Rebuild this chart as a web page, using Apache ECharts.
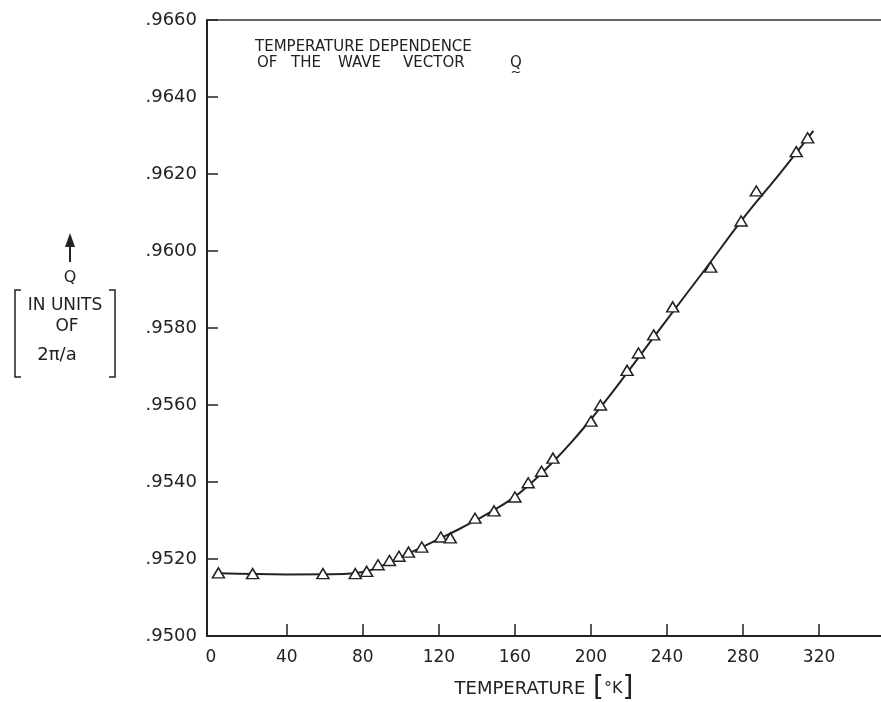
<!DOCTYPE html>
<html>
<head>
<meta charset="utf-8">
<script src="https://cdn.jsdelivr.net/npm/echarts@6/dist/echarts.min.js"></script>
<style>
html,body{margin:0;padding:0;background:#fff;overflow:hidden;}
#chart{position:absolute;left:0;top:0;width:881px;height:702px;}
</style>
</head>
<body>
<div id="chart"></div>
<script>
// measured points: temperature (K) and Q (units of 2π/a)
var pointT = [4, 22, 59, 76, 82, 88, 94, 99, 104, 111, 121, 126, 139, 149, 160, 167, 174, 180, 200, 205, 219, 225, 233, 243, 263, 279, 287, 308, 314];
var pointQ = [0.95164, 0.95162, 0.95162, 0.95162, 0.95168, 0.95185, 0.95196, 0.95207, 0.95218, 0.95231, 0.95257, 0.95255, 0.95306, 0.95325, 0.95361, 0.95398, 0.95428, 0.95462, 0.95558, 0.95600, 0.95690, 0.95735, 0.95782, 0.95855, 0.95958, 0.96078, 0.96156, 0.96258, 0.96294];
// drawn smooth curve through the points
var fitT = [4, 40, 70, 80, 90, 100, 110, 120, 130, 140, 150, 160, 170, 180, 190, 200, 210, 220, 240, 260, 280, 300, 317];
var fitQ = [0.95163, 0.95160, 0.95161, 0.95166, 0.95182, 0.95205, 0.95228, 0.95252, 0.95276, 0.95302, 0.95330, 0.95362, 0.95404, 0.95452, 0.95505, 0.95563, 0.95625, 0.95690, 0.95822, 0.95952, 0.96084, 0.96205, 0.96312];
var xTickLabels = [0, 40, 80, 120, 160, 200, 240, 280, 320];
var xTickMarks = [40, 80, 120, 160, 200, 240, 280, 320];
var titleLine1 = 'TEMPERATURE DEPENDENCE';
var titleLine2Words = ['OF', 'THE', 'WAVE', 'VECTOR', 'Q'];
var xName = 'TEMPERATURE';
var xUnit = '\u00B0K';
var yNameLines = ['Q', 'IN UNITS', 'OF', '2\u03C0/a'];

var ink = '#222';
var font = 'DejaVu Sans';

var chart = echarts.init(document.getElementById('chart'), null, {renderer: 'canvas', width: 881, height: 702});

function zip(a, b) { return a.map(function (v, i) { return [v, b[i]]; }); }

var wordX = [257, 291, 338, 403, 510];
var titleGraphics = [{
  type: 'text', x: 255, y: 40,
  style: {text: titleLine1, fontFamily: font, fontSize: 15, fill: ink, textVerticalAlign: 'top'}
}];
titleLine2Words.forEach(function (w, i) {
  titleGraphics.push({
    type: 'text', x: wordX[i], y: 56,
    style: {text: w, fontFamily: font, fontSize: 15, fill: ink, textVerticalAlign: 'top'}
  });
});
titleGraphics.push({
  type: 'text', x: wordX[4] + 6, y: 73,
  style: {text: '~', fontFamily: font, fontSize: 13, fill: ink, align: 'center', verticalAlign: 'middle'}
});

var option = {
  backgroundColor: '#fff',
  animation: false,
  textStyle: {fontFamily: font, color: ink},
  grid: {left: 207, right: 0, top: 20, bottom: 66, containLabel: false, outerBoundsMode: 'none'},
  xAxis: [{
    type: 'value', min: -2, max: 352.6,
    position: 'bottom',
    name: '{t|' + xName + '}  {b|[}{u|' + xUnit + '}{b|]}',
    nameLocation: 'middle', nameGap: 39,
    nameTextStyle: {
      rich: {
        t: {fontFamily: font, fontSize: 18, color: ink},
        b: {fontFamily: font, fontSize: 28, color: ink},
        u: {fontFamily: font, fontSize: 16, color: ink}
      }
    },
    axisLine: {show: true, onZero: false, lineStyle: {color: ink, width: 2}},
    axisTick: {show: true, inside: true, length: 12, customValues: xTickMarks, lineStyle: {color: ink, width: 1.5}},
    axisLabel: {customValues: xTickLabels, margin: 13, fontFamily: font, fontSize: 17, color: ink},
    splitLine: {show: false}
  }, {
    type: 'value', min: -2, max: 352.6,
    position: 'top',
    axisLine: {show: true, onZero: false, lineStyle: {color: '#333', width: 1.5}},
    axisTick: {show: false}, axisLabel: {show: false}, splitLine: {show: false}
  }],
  yAxis: {
    type: 'value', min: 0.95, max: 0.966, interval: 0.002,
    axisLine: {show: true, onZero: false, lineStyle: {color: ink, width: 2}},
    axisTick: {show: true, inside: true, length: 11, lineStyle: {color: ink, width: 1.5}},
    axisLabel: {
      margin: 10, fontFamily: font, fontSize: 18, color: ink,
      formatter: function (v) { return v.toFixed(4).replace(/^0/, ''); }
    },
    splitLine: {show: false}
  },
  graphic: titleGraphics.concat([
    // y-axis name block
    {type: 'line', shape: {x1: 70, y1: 245, x2: 70, y2: 262}, style: {stroke: ink, lineWidth: 2}},
    {type: 'polygon', shape: {points: [[65, 247], [75, 247], [70, 233]]}, style: {fill: ink}},
    {type: 'text', x: 70, y: 278, style: {text: yNameLines[0], fontFamily: font, fontSize: 16, fill: ink, align: 'center', verticalAlign: 'middle'}},
    {type: 'polyline', shape: {points: [[21, 290], [15, 290], [15, 377], [21, 377]]}, style: {stroke: ink, lineWidth: 1.5, fill: null}},
    {type: 'polyline', shape: {points: [[109, 290], [115, 290], [115, 377], [109, 377]]}, style: {stroke: ink, lineWidth: 1.5, fill: null}},
    {type: 'text', x: 65, y: 306, style: {text: yNameLines[1], fontFamily: font, fontSize: 17, fill: ink, align: 'center', verticalAlign: 'middle'}},
    {type: 'text', x: 67, y: 327, style: {text: yNameLines[2], fontFamily: font, fontSize: 17, fill: ink, align: 'center', verticalAlign: 'middle'}},
    {type: 'text', x: 57, y: 355, style: {text: yNameLines[3], fontFamily: font, fontSize: 18, fill: ink, align: 'center', verticalAlign: 'middle'}}
  ]),
  series: [{
    name: 'fit', type: 'line', xAxisIndex: 0,
    data: zip(fitT, fitQ),
    smooth: 0.4, showSymbol: false, symbol: 'none',
    lineStyle: {color: ink, width: 2},
    z: 2, silent: true
  }, {
    name: 'Q', type: 'scatter', xAxisIndex: 0,
    data: zip(pointT, pointQ),
    symbol: 'triangle', symbolSize: [12, 10],
    itemStyle: {color: '#fff', borderColor: ink, borderWidth: 1.5, opacity: 1},
    z: 3
  }]
};
chart.setOption(option);
</script>
</body>
</html>
